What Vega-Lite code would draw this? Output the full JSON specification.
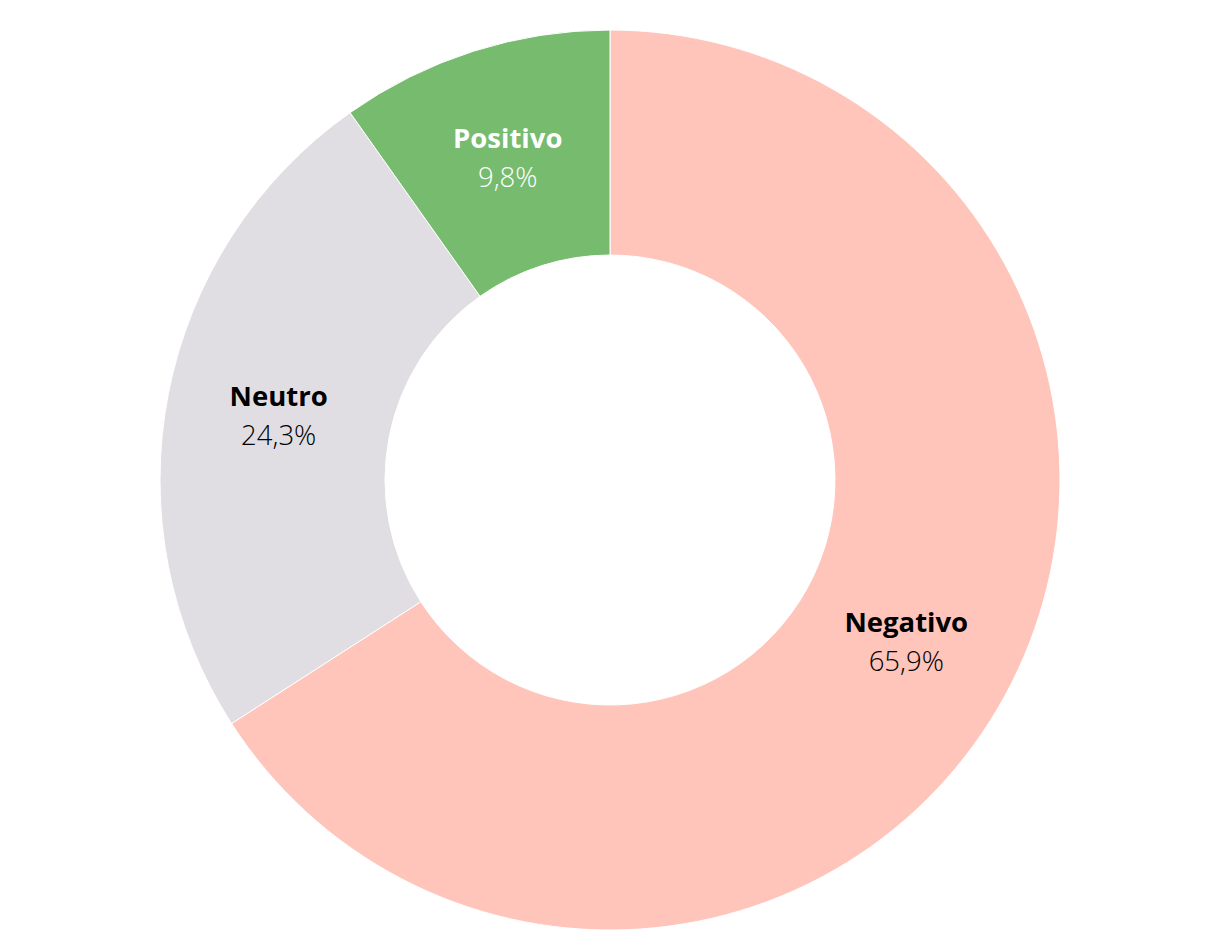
{
  "$schema": "https://vega.github.io/schema/vega-lite/v6.json",
  "width": 1220,
  "height": 920,
  "padding": {"top": 20, "bottom": 0, "left": 0, "right": 0},
  "autosize": {"type": "none"},
  "background": "white",
  "config": {"view": {"stroke": null}, "font": "Open Sans"},
  "data": {
    "values": [
      {"sentimento": "Negativo", "valor": 65.9, "pct": "65,9%", "ord": 1},
      {"sentimento": "Neutro", "valor": 24.3, "pct": "24,3%", "ord": 2},
      {"sentimento": "Positivo", "valor": 9.8, "pct": "9,8%", "ord": 3}
    ]
  },
  "encoding": {
    "theta": {"field": "valor", "type": "quantitative", "stack": true},
    "order": {"field": "ord", "type": "quantitative"}
  },
  "layer": [
    {
      "mark": {"type": "arc", "outerRadius": 450, "innerRadius": 225, "stroke": "white", "strokeWidth": 1},
      "encoding": {
        "color": {
          "field": "sentimento",
          "type": "nominal",
          "scale": {"domain": ["Negativo", "Neutro", "Positivo"], "range": ["#FFC4BA", "#E0DEE3", "#77BB6F"]},
          "legend": null
        }
      }
    },
    {
      "mark": {"type": "text", "radius": 337.5, "dy": -18, "fontSize": 27.5, "fontWeight": "bold", "font": "Open Sans"},
      "encoding": {
        "text": {"field": "sentimento"},
        "color": {
          "field": "sentimento",
          "type": "nominal",
          "scale": {"domain": ["Negativo", "Neutro", "Positivo"], "range": ["#000000", "#000000", "#FFFFFF"]},
          "legend": null
        }
      }
    },
    {
      "mark": {"type": "text", "radius": 337.5, "dy": 21, "fontSize": 27.5, "fontWeight": 300, "font": "Open Sans"},
      "encoding": {
        "text": {"field": "pct"},
        "color": {
          "field": "sentimento",
          "type": "nominal",
          "scale": {"domain": ["Negativo", "Neutro", "Positivo"], "range": ["#000000", "#000000", "#FFFFFF"]},
          "legend": null
        }
      }
    }
  ],
  "resolve": {"scale": {"color": "independent"}}
}
